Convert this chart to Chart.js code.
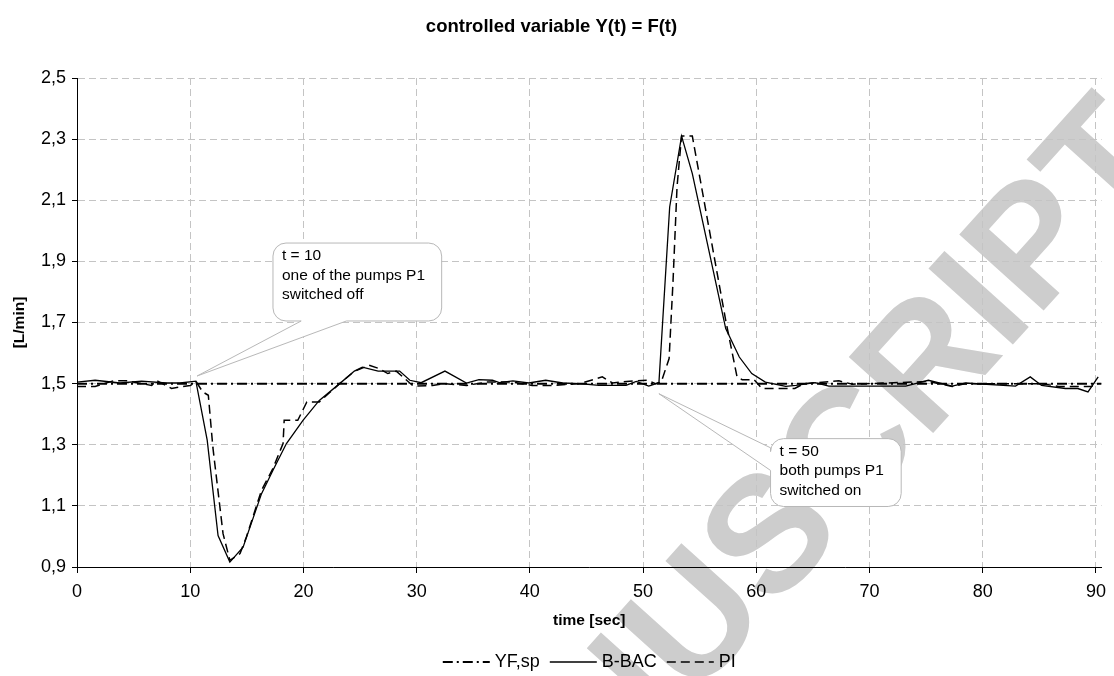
<!DOCTYPE html>
<html>
<head>
<meta charset="utf-8">
<script src="https://cdn.jsdelivr.net/npm/chart.js@4.4.1/dist/chart.umd.min.js"></script>
<style>
  html, body { margin: 0; padding: 0; background: #fff; }
</style>
</head>
<body>
<canvas id="flowChart" width="1114" height="676"></canvas>
<script>
// time axis [sec] and flow values [L/min]
const setpointTime = [0, 90.5];
const setpointValue = [1.5, 1.5];

const bbacTime = [0, 1.6, 3.8, 5.7, 7.9, 9.1, 10.5, 11.5, 12.46, 13.5, 14.67, 16.3, 17.3, 18.5, 19.96,
  21.4, 23.2, 24.5, 25.2, 26.6, 28.5, 29.4, 30.4, 32.5, 34.4, 35.5, 36.7, 37.3, 38.5, 39.9, 41.4, 42.9,
  44.4, 46.1, 48.5, 49.4, 50.5, 51.4, 52.35, 53.4, 54.35, 57.3, 58.5, 59.6, 60.8, 62.6, 63.5, 65.2,
  66.4, 73.2, 75.2, 77.3, 78.5, 82.9, 84.2, 85.2, 87.3, 88.4, 89.3, 90.2];
const bbacValue = [1.505, 1.511, 1.502, 1.508, 1.502, 1.502, 1.508, 1.315, 1.003, 0.916, 0.965, 1.14, 1.216, 1.304, 1.38,
  1.445, 1.5, 1.541, 1.554, 1.541, 1.541, 1.511, 1.503, 1.541, 1.502, 1.513, 1.511, 1.503, 1.509, 1.502, 1.511, 1.502,
  1.5, 1.494, 1.494, 1.507, 1.492, 1.503, 2.078, 2.31, 2.187, 1.68, 1.587, 1.533, 1.505, 1.491, 1.494, 1.503,
  1.492, 1.492, 1.511, 1.492, 1.502, 1.492, 1.522, 1.494, 1.484, 1.484, 1.473, 1.522];

const piTime = [0, 1.6, 3.2, 4.4, 6.6, 7.0, 8.35, 9.1, 10.0, 10.55, 11.1, 11.6, 12.0, 12.9, 13.5, 14.4, 14.96,
  16.3, 17.3, 18.2, 18.3, 19.5, 20.3, 21.4, 23.2, 24.5, 25.8, 26.7, 27.45, 28.2, 29.7, 31.4, 32.5, 34.4,
  36.2, 38.5, 40.2, 42, 44.4, 46.4, 47.3, 49.1, 50.4, 51.1, 51.6, 52.3, 52.65, 53.0, 53.4, 54.35, 57.3,
  58.3, 58.75, 59.8, 60.5, 63.4, 64.2, 67.3, 68.5, 75.2, 77.3, 78.5, 85.2, 86.7, 89.6, 90.2];
const piValue = [1.491, 1.491, 1.509, 1.509, 1.494, 1.511, 1.484, 1.489, 1.494, 1.505, 1.473, 1.462, 1.292, 1.009, 0.922, 0.944, 0.998,
  1.151, 1.222, 1.304, 1.38, 1.38, 1.44, 1.44, 1.5, 1.54, 1.56, 1.549, 1.533, 1.541, 1.492, 1.494, 1.5, 1.494,
  1.505, 1.505, 1.494, 1.494, 1.5, 1.522, 1.502, 1.509, 1.511, 1.5, 1.505, 1.582, 1.838, 2.144, 2.31, 2.31, 1.707,
  1.522, 1.513, 1.513, 1.484, 1.484, 1.5, 1.509, 1.498, 1.507, 1.491, 1.5, 1.5, 1.491, 1.491, 1.5];

const FONT = "Arial, 'Liberation Sans', sans-serif";

function toPoints(xs, ys) {
  return xs.map((x, i) => ({ x: x, y: ys[i] }));
}

// callouts, anchored in data coordinates
const callouts = [
  { lines: ['t = 10', 'one of the pumps P1', 'switched off'],
    tip: [10.61, 1.525], box: [17.31, 1.96, 32.21, 1.705], side: 'bottom', base: [19.8, 23.8] },
  { lines: ['t = 50', 'both pumps P1', 'switched on'],
    tip: [51.4, 1.467], box: [61.26, 1.32, 72.8, 1.098], side: 'left', base: [1.29, 1.216] }
];

const calloutPlugin = {
  id: 'callouts',
  afterDatasetsDraw(chart) {
    const ctx = chart.ctx, xs = chart.scales.x, ys = chart.scales.y;
    callouts.forEach(c => {
      const l = xs.getPixelForValue(c.box[0]), t = ys.getPixelForValue(c.box[1]);
      const r = xs.getPixelForValue(c.box[2]), b = ys.getPixelForValue(c.box[3]);
      const tx = xs.getPixelForValue(c.tip[0]), ty = ys.getPixelForValue(c.tip[1]);
      const rad = 13;
      ctx.save();
      ctx.beginPath();
      ctx.moveTo(l + rad, t);
      ctx.lineTo(r - rad, t);
      ctx.arcTo(r, t, r, t + rad, rad);
      ctx.lineTo(r, b - rad);
      ctx.arcTo(r, b, r - rad, b, rad);
      if (c.side === 'bottom') {
        ctx.lineTo(xs.getPixelForValue(c.base[1]), b);
        ctx.lineTo(tx, ty);
        ctx.lineTo(xs.getPixelForValue(c.base[0]), b);
      }
      ctx.lineTo(l + rad, b);
      ctx.arcTo(l, b, l, b - rad, rad);
      if (c.side === 'left') {
        ctx.lineTo(l, ys.getPixelForValue(c.base[1]));
        ctx.lineTo(tx, ty);
        ctx.lineTo(l, ys.getPixelForValue(c.base[0]));
      }
      ctx.lineTo(l, t + rad);
      ctx.arcTo(l, t, l + rad, t, rad);
      ctx.closePath();
      ctx.fillStyle = '#fff';
      ctx.fill();
      ctx.strokeStyle = '#b8b8b8';
      ctx.lineWidth = 1;
      ctx.stroke();
      ctx.fillStyle = '#000';
      ctx.font = '15.5px ' + FONT;
      ctx.textBaseline = 'middle';
      ctx.textAlign = 'left';
      c.lines.forEach((s, i) => ctx.fillText(s, l + 9, t + 13 + i * 19.5));
      ctx.restore();
    });
  }
};

const watermarkPlugin = {
  id: 'watermark',
  beforeDraw(chart) {
    const ctx = chart.ctx;
    ctx.save();
    ctx.fillStyle = '#fff';
    ctx.fillRect(0, 0, chart.width, chart.height);
    const size = 165;
    ctx.font = 'bold ' + size + 'px ' + FONT;
    const pre = ctx.measureText('ACCEPTED MANUS').width;
    const cw = ctx.measureText('C').width;
    ctx.translate(842, 446);
    ctx.rotate(-48 * Math.PI / 180);
    ctx.fillStyle = '#cdcdcd';
    ctx.textAlign = 'left';
    ctx.textBaseline = 'alphabetic';
    ctx.fillText('ACCEPTED MANUSCRIPT', -(pre + cw / 2), 0.358 * size);
    ctx.restore();
  }
};

// legend with real line samples (dashes kept)
const lineLegendPlugin = {
  id: 'lineLegend',
  afterDraw(chart) {
    const ctx = chart.ctx, area = chart.chartArea;
    const sample = 47, gapText = 5, gapItem = 10, y = 662;
    ctx.save();
    ctx.font = '18px ' + FONT;
    const sets = chart.data.datasets;
    let total = 0;
    sets.forEach((d, i) => {
      total += sample + gapText + ctx.measureText(d.label).width + (i < sets.length - 1 ? gapItem : 0);
    });
    let x = (area.left + area.right) / 2 - total / 2;
    sets.forEach(d => {
      ctx.beginPath();
      ctx.setLineDash(d.borderDash || []);
      ctx.lineWidth = d.borderWidth;
      ctx.strokeStyle = d.borderColor;
      ctx.moveTo(x, y);
      ctx.lineTo(x + sample, y);
      ctx.stroke();
      x += sample + gapText;
      ctx.fillStyle = '#000';
      ctx.textAlign = 'left';
      ctx.textBaseline = 'middle';
      ctx.fillText(d.label, x, y);
      x += ctx.measureText(d.label).width + gapItem;
    });
    ctx.restore();
  }
};

Chart.defaults.font.family = FONT;
Chart.defaults.color = '#000';

const ctx = document.getElementById('flowChart').getContext('2d');
window.flowChart = new Chart(ctx, {
  type: 'line',
  data: {
    datasets: [
      { label: 'YF,sp', data: toPoints(setpointTime, setpointValue), borderColor: '#000',
        borderWidth: 2, borderDash: [10, 4, 2, 4], pointRadius: 0, fill: false, tension: 0 },
      { label: 'B-BAC', data: toPoints(bbacTime, bbacValue), borderColor: '#000',
        borderWidth: 1.3, pointRadius: 0, fill: false, tension: 0 },
      { label: 'PI', data: toPoints(piTime, piValue), borderColor: '#000',
        borderWidth: 1.5, borderDash: [9, 5], pointRadius: 0, fill: false, tension: 0 }
    ]
  },
  options: {
    responsive: false,
    animation: false,
    layout: { padding: { left: 0, right: 11, top: 0, bottom: 33 } },
    plugins: {
      title: {
        display: true, text: 'controlled variable Y(t) = F(t)', color: '#000',
        font: { size: 18.5, weight: 'bold' }, padding: { top: 16, bottom: 39.8 }
      },
      legend: { display: false },
      tooltip: { enabled: false }
    },
    scales: {
      x: {
        type: 'linear', min: 0, max: 90.5,
        ticks: { stepSize: 10, includeBounds: false, maxRotation: 0, color: '#000',
          font: { size: 18 }, padding: 8 },
        grid: { color: '#c4c4c4', tickColor: '#000', tickLength: 6, tickBorderDash: [] },
        border: { display: true, color: '#000', width: 1, dash: [7, 4] },
        title: { display: true, text: 'time [sec]', color: '#000',
          font: { size: 15.5, weight: 'bold' }, padding: { top: 0, bottom: 12.7 } },
        afterFit: s => { s.height = 76; }
      },
      y: {
        min: 0.9, max: 2.5,
        ticks: { stepSize: 0.2, color: '#000', font: { size: 18 }, padding: 6,
          callback: v => v.toFixed(1).replace('.', ',') },
        grid: { color: '#c4c4c4', tickColor: '#000', tickLength: 5, tickBorderDash: [] },
        border: { display: true, color: '#000', width: 1, dash: [7, 4] },
        title: { display: true, text: '[L/min]', color: '#000',
          font: { size: 15.5, weight: 'bold' }, padding: { top: 10.7, bottom: 0 } },
        afterFit: s => { s.width = 77; }
      }
    }
  },
  plugins: [watermarkPlugin, calloutPlugin, lineLegendPlugin]
});
</script>
</body>
</html>
